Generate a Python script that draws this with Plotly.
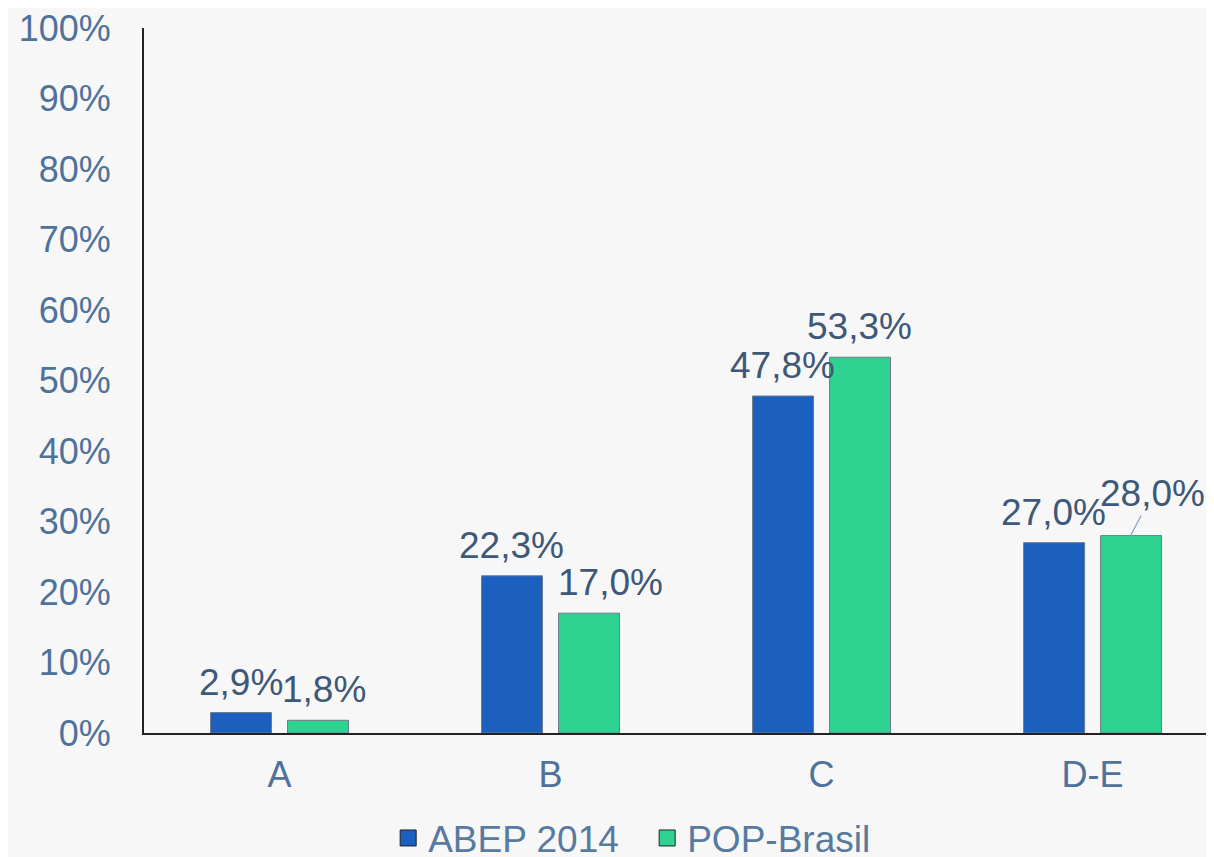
import plotly.graph_objects as go

categories = ["A", "B", "C", "D-E"]
abep_2014 = [2.9, 22.3, 47.8, 27.0]
pop_brasil = [1.8, 17.0, 53.3, 28.0]
abep_labels = ["2,9%", "22,3%", "47,8%", "27,0%"]
pop_labels = ["1,8%", "17,0%", "53,3%", "28,0%"]
y_ticks = list(range(0, 101, 10))
y_tick_labels = [f"{v}%" for v in y_ticks]

FONT = "Liberation Sans, Arial, sans-serif"
TICK_COLOR = "#4f729b"
LABEL_COLOR = "#3e5878"
BLUE = "#1b5fbf"
GREEN = "#2fd391"
EDGE = "#6b7b8c"

x_idx = list(range(len(categories)))

fig = go.Figure()
fig.add_trace(go.Bar(
    x=x_idx, y=abep_2014, name="ABEP 2014", showlegend=False,
    marker=dict(color=BLUE, line=dict(color=EDGE, width=1)),
))
fig.add_trace(go.Bar(
    x=x_idx, y=pop_brasil, name="POP-Brasil", showlegend=False,
    marker=dict(color=GREEN, line=dict(color=EDGE, width=1)),
))
# legend entries (square swatches)
for name, col in [("ABEP 2014", BLUE), ("POP-Brasil", GREEN)]:
    fig.add_trace(go.Scatter(
        x=[None], y=[None], mode="markers", name=name,
        marker=dict(symbol="square", size=19, color=col,
                    line=dict(color="#222222", width=1)),
    ))

# data labels
blue_shift = [-39, -39, -39, -39]
green_shift = [44, 60, 38, 38]
for i in x_idx:
    fig.add_annotation(
        x=i, y=abep_2014[i], text=abep_labels[i], showarrow=False,
        xshift=blue_shift[i], yshift=8, yanchor="bottom",
        font=dict(family=FONT, size=37, color=LABEL_COLOR),
    )
    if i == 3:
        fig.add_annotation(
            x=i, y=pop_brasil[i], text=pop_labels[i], showarrow=True,
            arrowhead=0, arrowwidth=1.2, arrowcolor="#8ea8c6",
            ax=22, ay=-42, xshift=green_shift[i],
            font=dict(family=FONT, size=37, color=LABEL_COLOR),
        )
    else:
        fig.add_annotation(
            x=i, y=pop_brasil[i], text=pop_labels[i], showarrow=False,
            xshift=green_shift[i], yshift=8, yanchor="bottom",
            font=dict(family=FONT, size=37, color=LABEL_COLOR),
        )

fig.update_layout(
    width=1214, height=857,
    margin=dict(l=136, r=8, t=20, b=132, autoexpand=False),
    paper_bgcolor="#f7f7f7", plot_bgcolor="rgba(0,0,0,0)",
    barmode="group", bargap=0.432, bargroupgap=0.208,
    showlegend=True,
    legend=dict(
        orientation="h", xref="container", yref="container",
        x=0.5265, xanchor="center", y=0.031, yanchor="middle",
        font=dict(family=FONT, size=37, color="#577aa0"),
        itemsizing="trace", bgcolor="rgba(0,0,0,0)",
        entrywidth=214, entrywidthmode="pixels",
    ),
    font=dict(family=FONT),
)
fig.update_xaxes(
    range=[-0.5, 3.448], tickmode="array", tickvals=x_idx, ticktext=categories,
    showline=True, linecolor="#222222", linewidth=2, showgrid=False,
    ticks="", ticklabelstandoff=9, automargin=False,
    tickfont=dict(family=FONT, size=36, color=TICK_COLOR),
)
fig.update_yaxes(
    range=[0, 100], tickmode="array", tickvals=y_ticks, ticktext=y_tick_labels,
    showline=True, linecolor="#222222", linewidth=2, showgrid=False,
    zeroline=False, ticks="", ticklabelstandoff=24, automargin=False,
    ticklabeloverflow="allow",
    tickfont=dict(family=FONT, size=36, color=TICK_COLOR),
)

fig.write_html("out.html")
